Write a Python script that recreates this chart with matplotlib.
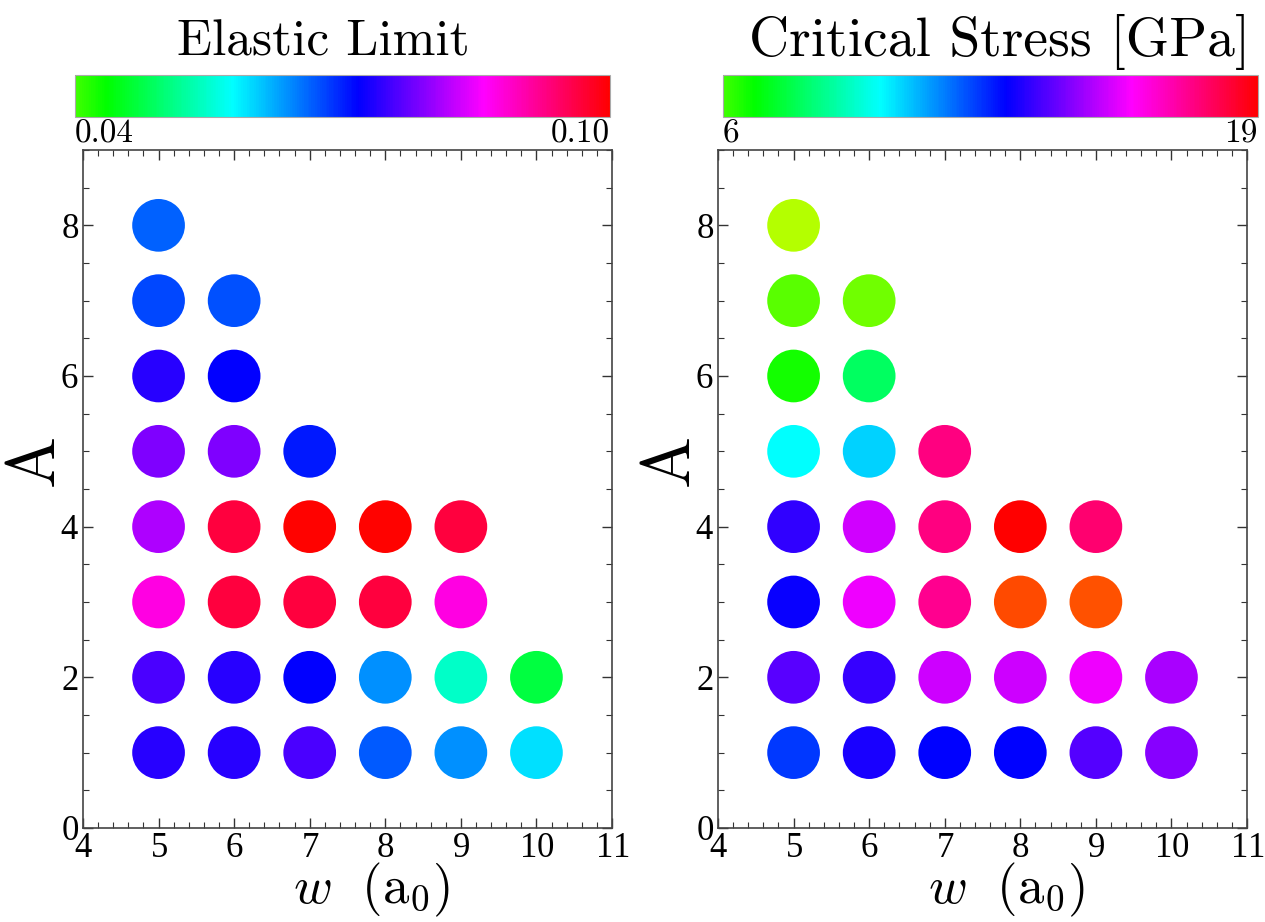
import matplotlib
matplotlib.use('Agg')
import matplotlib.pyplot as plt
import numpy as np
from matplotlib.colors import ListedColormap, Normalize, hsv_to_rgb
from matplotlib.ticker import MultipleLocator

plt.rcParams['font.family'] = 'cmr10'
plt.rcParams['mathtext.fontset'] = 'cm'
plt.rcParams['axes.formatter.use_mathtext'] = True

# grid points (w, A)
w = [5, 5, 6, 5, 6, 5, 6, 7, 5, 6, 7, 8, 9, 5, 6, 7, 8, 9, 5, 6, 7, 8, 9, 10, 5, 6, 7, 8, 9, 10]
A = [8, 7, 7, 6, 6, 5, 5, 5, 4, 4, 4, 4, 4, 3, 3, 3, 3, 3, 2, 2, 2, 2, 2, 2, 1, 1, 1, 1, 1, 1]

elastic = [0.0664,
           0.0678, 0.0673,
           0.0739, 0.0718,
           0.0788, 0.0788, 0.0704,
           0.0814, 0.0965, 0.1000, 0.1000, 0.0965,
           0.0875, 0.0965, 0.0965, 0.0965, 0.0875,
           0.0758, 0.0739, 0.0718, 0.0638, 0.0546, 0.0471,
           0.0739, 0.0739, 0.0758, 0.0668, 0.0638, 0.0593]

stress = [4.60,
          5.71, 5.42,
          6.56, 7.92,
          9.82, 10.38, 17.47,
          13.46, 15.38, 17.47, 19.0, 17.65,
          12.98, 15.76, 17.27, 19.87, 19.96,
          13.94, 13.54, 15.33, 15.33, 15.74, 14.90,
          12.21, 13.17, 12.88, 12.88, 13.89, 14.51]

# hue based colormap: green -> cyan -> blue -> magenta -> red, extended both sides
h_lo, h_hi, h0, h1 = 45.0, 405.0, 105.0, 360.0
hues = (np.linspace(h_lo, h_hi, 720) % 360) / 360.0
cmap = ListedColormap(hsv_to_rgb(np.column_stack([hues, np.ones_like(hues), np.ones_like(hues)])))


def ext_norm(v0, v1):
    lo = v0 + (h_lo - h0) / (h1 - h0) * (v1 - v0)
    hi = v0 + (h_hi - h0) / (h1 - h0) * (v1 - v0)
    return Normalize(lo, hi)


fig = plt.figure(figsize=(12.65, 9.22), dpi=100)

panels = [
    (elastic, 0.04, 0.10, ['0.04', '0.10'], 'Elastic Limit', 37, 0.465, 0.0656, 0.0593),
    (stress, 6, 19, ['6', '19'], 'Critical Stress [GPa]', 40, 0.517, 0.5676, 0.5715),
]

for vals, v0, v1, tl, title, tsize, tx, axl, cbl in panels:
    ax = fig.add_axes([axl, 0.102, 0.4182, 0.7353])
    norm = ext_norm(v0, v1)
    sc = ax.scatter(w, A, c=vals, cmap=cmap, norm=norm, s=1440, linewidths=0)
    ax.set_xlim(4, 11)
    ax.set_ylim(0, 9)
    ax.xaxis.set_major_locator(MultipleLocator(1))
    ax.xaxis.set_minor_locator(MultipleLocator(0.2))
    ax.yaxis.set_major_locator(MultipleLocator(2))
    ax.yaxis.set_minor_locator(MultipleLocator(0.5))
    ax.tick_params(which='both', direction='in', top=True, right=True, color='#333333')
    ax.tick_params(which='major', length=7, width=1, labelsize=25, pad=3)
    ax.tick_params(which='minor', length=4, width=0.8)
    for lab in ax.get_xticklabels() + ax.get_yticklabels():
        lab.set_family('Liberation Serif')
    for sp in ax.spines.values():
        sp.set_color('#444444')
        sp.set_linewidth(1.2)
    ax.set_xlabel(r'$w\ \ (\mathrm{a}_0)$', fontsize=38, labelpad=-3)
    ax.xaxis.label.set_x(0.545)
    ax.set_ylabel('A', fontsize=50, labelpad=-4)
    ax.yaxis.label.set_y(0.543)

    cax = fig.add_axes([cbl, 0.8731, 0.4229, 0.0456])
    cb = fig.colorbar(sc, cax=cax, orientation='horizontal',
                      boundaries=np.linspace(v0, v1, 300))
    cb.set_ticks([v0, v1])
    cb.set_ticklabels(tl)
    cb.outline.set_edgecolor('#aaaaaa')
    cb.outline.set_linewidth(0.8)
    cax.tick_params(length=0, labelsize=24, pad=2)
    labs = cax.get_xticklabels()
    labs[0].set_ha('left')
    labs[1].set_ha('right')
    cax.set_title(title, fontsize=tsize, pad=14, x=tx)

fig.savefig('out.png', dpi=100)
